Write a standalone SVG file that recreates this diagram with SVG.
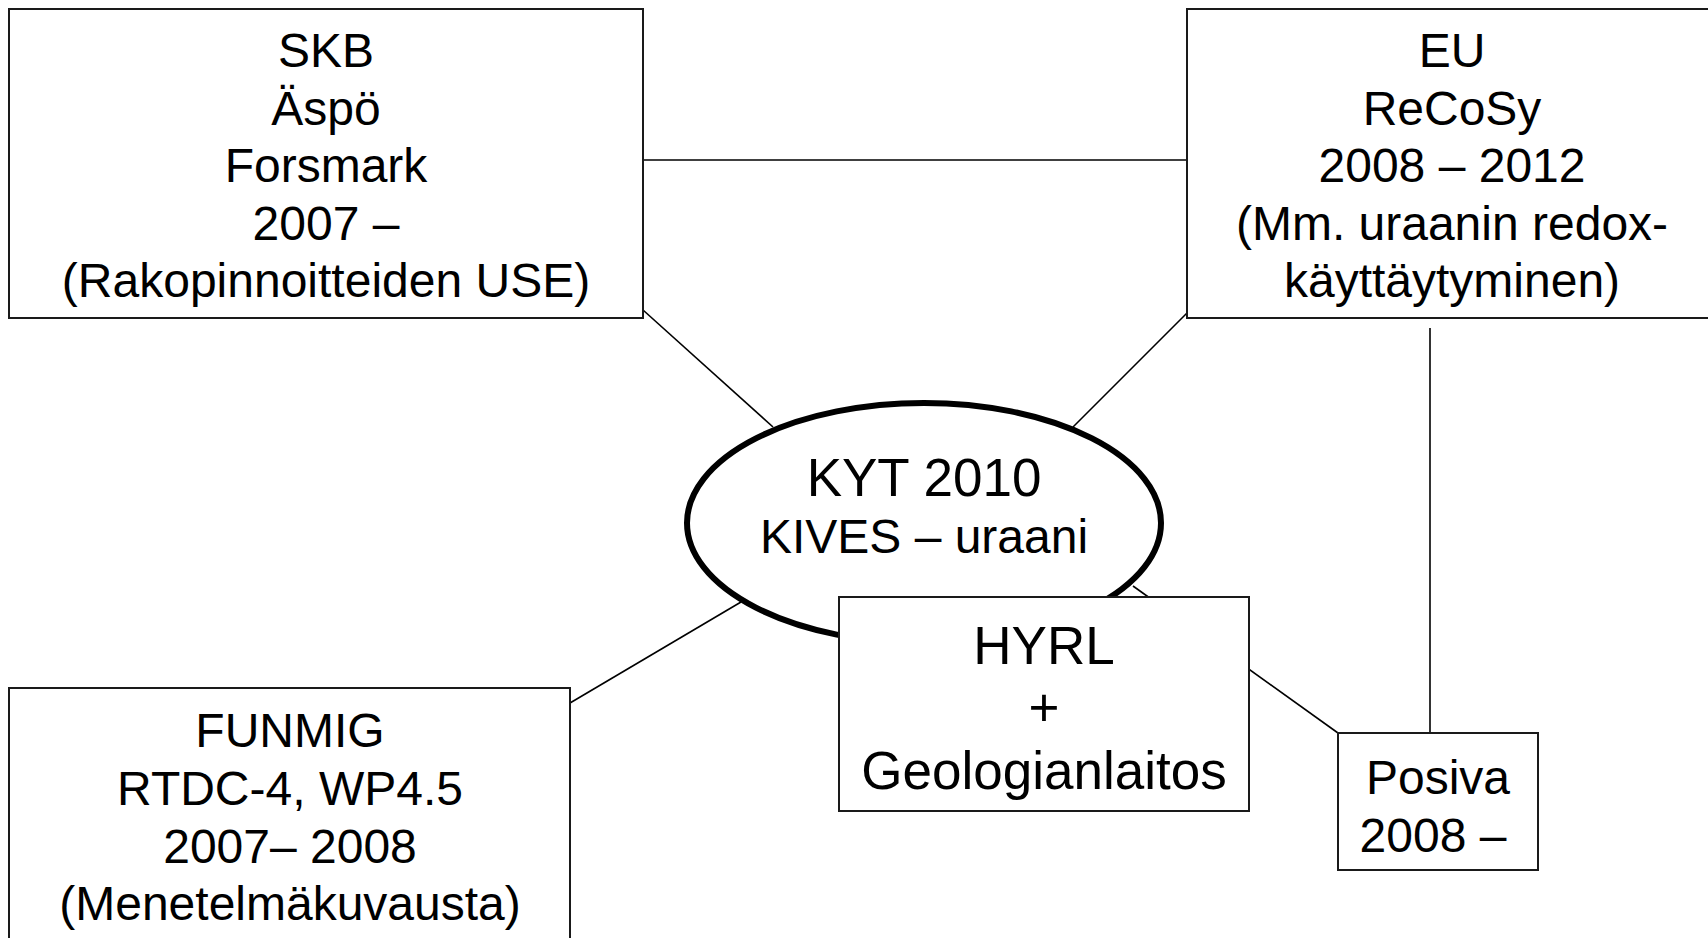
<svg xmlns="http://www.w3.org/2000/svg" width="1708" height="938" viewBox="0 0 1708 938">
<style>
.box{fill:#fff;stroke:#1a1a1a;stroke-width:2}
.ell{fill:#fff;stroke:#000;stroke-width:6}
.ln{stroke:#000;stroke-width:1.6;fill:none}
text{font-family:"Liberation Sans",Arial,sans-serif;font-size:48px;fill:#000;text-anchor:middle}
.big{font-size:53px}
</style>
<rect width="1708" height="938" fill="#fff"/>
<g id="connectors">
<line class="ln" x1="643" y1="160" x2="1187" y2="160"/>
<line class="ln" x1="643" y1="310" x2="773" y2="427"/>
<line class="ln" x1="1187" y1="313" x2="1073" y2="427"/>
<line class="ln" x1="1430" y1="328" x2="1430" y2="733"/>
<line class="ln" x1="570" y1="703" x2="741" y2="602"/>
<line class="ln" x1="1133" y1="586" x2="1338" y2="733"/>
</g>
<g id="skb">
<rect class="box" x="9" y="9" width="634" height="309"/>
<text x="326" y="67">SKB</text>
<text x="326" y="125">Äspö</text>
<text x="326" y="182">Forsmark</text>
<text x="326" y="240">2007 –</text>
<text x="326" y="297">(Rakopinnoitteiden USE)</text>
</g>
<g id="eu">
<rect class="box" x="1187" y="9" width="540" height="309"/>
<text x="1452" y="67">EU</text>
<text x="1452" y="125">ReCoSy</text>
<text x="1452" y="182">2008 – 2012</text>
<text x="1452" y="240">(Mm. uraanin redox-</text>
<text x="1452" y="297">käyttäytyminen)</text>
</g>
<g id="kyt">
<ellipse class="ell" cx="924" cy="523" rx="237" ry="120"/>
<text class="big" x="924" y="496">KYT 2010</text>
<text x="924" y="553">KIVES – uraani</text>
</g>
<g id="hyrl">
<rect class="box" x="839" y="597" width="410" height="214"/>
<text class="big" x="1044" y="664">HYRL</text>
<text class="big" x="1044" y="726">+</text>
<text class="big" x="1044" y="789">Geologianlaitos</text>
</g>
<g id="funmig">
<rect class="box" x="9" y="688" width="561" height="270"/>
<text x="290" y="747">FUNMIG</text>
<text x="290" y="805">RTDC-4, WP4.5</text>
<text x="290" y="863">2007– 2008</text>
<text x="290" y="920">(Menetelmäkuvausta)</text>
</g>
<g id="posiva">
<rect class="box" x="1338" y="733" width="200" height="137"/>
<text x="1438" y="794">Posiva</text>
<text x="1433" y="852">2008 –</text>
</g>
</svg>
